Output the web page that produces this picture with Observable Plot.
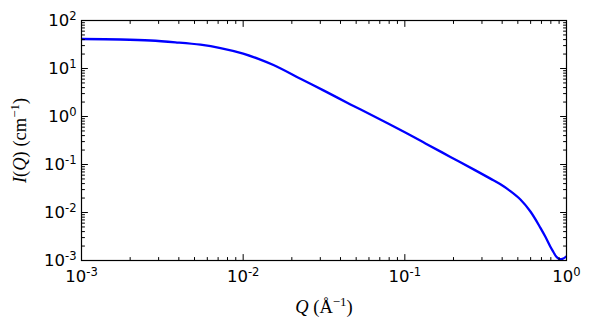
<!DOCTYPE html>
<html>
<head>
<meta charset="utf-8">
<script src="https://cdn.jsdelivr.net/npm/d3@7"></script>
<script src="https://cdn.jsdelivr.net/npm/@observablehq/plot@0.6"></script>
<style>
  html, body { margin: 0; padding: 0; background: #ffffff; }
  #chart svg { display: block; }
</style>
</head>
<body>
<div id="chart"></div>
<script>
// Scattering curve I(Q)
const qValues = [0.001, 0.001743, 0.002671, 0.003815, 0.005443, 0.007238, 0.0100, 0.01243, 0.0154, 0.02262, 0.03138,
                 0.0461, 0.06393, 0.100, 0.1341, 0.1914, 0.2733, 0.3384, 0.3903, 0.4497, 0.5187, 0.5981, 0.6898,
                 0.7404, 0.7949, 0.8298, 0.866, 0.9039, 0.9432, 1.0];
const intensity = [41.2, 40.2, 38.3, 35.1, 31.3, 26.7, 20.5, 15.9, 11.8, 6.13, 3.50,
                   1.787, 1.024, 0.469, 0.2752, 0.144, 0.0754, 0.0508, 0.0387, 0.0279, 0.01866, 0.0105, 0.0048,
                   0.00312, 0.00193, 0.001503, 0.001194, 0.001069, 0.001079, 0.001224];

const xMajorTicks = [1e-3, 1e-2, 1e-1, 1];
const yMajorTicks = [1e-3, 1e-2, 1e-1, 1, 10, 100];
const xDomain = [1e-3, 1];
const yDomain = [1e-3, 100];
const xLabel = "*Q* (Å^{\u22121})";
const yLabel = "*I*(*Q*) (cm^{\u22121})";

const data = qValues.map((q, k) => ({q, i: intensity[k]}));

function minorTicks(lo, hi) {
  const out = [];
  for (let e = lo; e < hi; e++) for (let m = 2; m <= 9; m++) out.push(+(m * Math.pow(10, e)).toPrecision(6));
  return out;
}
const xMinorTicks = minorTicks(-3, 0);
const yMinorTicks = minorTicks(-3, 2);

const tickShape = {draw(ctx, l) { ctx.moveTo(0, 0); ctx.lineTo(0, -l); }};
const majorLen = 6, minorLen = 3;

function xTicks(values, len) {
  return [
    Plot.vector(values, {x: d => d, frameAnchor: "bottom", length: len, rotate: 0, anchor: "start", shape: tickShape, stroke: "black", strokeWidth: 1}),
    Plot.vector(values, {x: d => d, frameAnchor: "top", length: len, rotate: 180, anchor: "start", shape: tickShape, stroke: "black", strokeWidth: 1})
  ];
}
function yTicks(values, len) {
  return [
    Plot.vector(values, {y: d => d, frameAnchor: "left", length: len, rotate: 90, anchor: "start", shape: tickShape, stroke: "black", strokeWidth: 1}),
    Plot.vector(values, {y: d => d, frameAnchor: "right", length: len, rotate: -90, anchor: "start", shape: tickShape, stroke: "black", strokeWidth: 1})
  ];
}

const fmt = d => "10^{" + String(Math.round(Math.log10(d))) + "}";

const chart = Plot.plot({
  width: 591,
  height: 330,
  marginLeft: 81,
  marginRight: 25,
  marginTop: 20,
  marginBottom: 70,
  style: {fontFamily: "DejaVu Sans", color: "black", background: "white"},
  x: {type: "log", domain: xDomain},
  y: {type: "log", domain: yDomain},
  marks: [
    Plot.line(data, {x: "q", y: "i", stroke: "#0000ff", strokeWidth: 2.3, curve: "catmull-rom", clip: true}),
    Plot.frame({stroke: "black", strokeWidth: 1.2}),
    ...xTicks(xMinorTicks, minorLen),
    ...xTicks(xMajorTicks, majorLen),
    ...yTicks(yMinorTicks, minorLen),
    ...yTicks(yMajorTicks, majorLen),
    Plot.axisX({ticks: xMajorTicks, tickSize: 0, tickPadding: 10, tickFormat: fmt, fontSize: 16.5, label: null}),
    Plot.axisY({ticks: yMajorTicks, tickSize: 0, tickPadding: 5, tickFormat: fmt, fontSize: 16.5, label: null}),
    Plot.text([yLabel], {text: d => d, frameAnchor: "left", textAnchor: "middle", lineAnchor: "middle", dx: -61, rotate: -90, fontSize: 18.5, fontFamily: "Liberation Serif", fill: "black"}),
    Plot.text([xLabel], {text: d => d, frameAnchor: "bottom", textAnchor: "middle", lineAnchor: "middle", dy: 47, fontSize: 18.5, fontFamily: "Liberation Serif", fill: "black"})
  ]
});

document.getElementById("chart").appendChild(chart);

// Turn simple markup (*italic*, ^{superscript}) into tspans
const NS = "http://www.w3.org/2000/svg";
function richify(textEl, rise, scale) {
  const src = textEl.textContent;
  if (!/[\^*]/.test(src)) return;
  const fs = parseFloat(getComputedStyle(textEl).fontSize);
  textEl.textContent = "";
  const re = /\*([^*]+)\*|\^\{([^}]+)\}|([^*^]+)/g;
  let m, pending = 0;
  while ((m = re.exec(src))) {
    const t = document.createElementNS(NS, "tspan");
    if (m[2]) {
      t.setAttribute("font-size", (fs * scale).toFixed(2));
      t.setAttribute("dy", (-rise * fs).toFixed(2));
      t.textContent = m[2];
      textEl.appendChild(t);
      pending = rise * fs;
      continue;
    }
    if (m[1]) { t.setAttribute("font-style", "italic"); t.textContent = m[1]; }
    else t.textContent = m[3];
    if (pending) { t.setAttribute("dy", pending.toFixed(2)); pending = 0; }
    textEl.appendChild(t);
  }
}
chart.querySelectorAll('g[aria-label="x-axis tick label"] text, g[aria-label="y-axis tick label"] text')
  .forEach(t => richify(t, 0.38, 0.7));
chart.querySelectorAll('g[aria-label="text"] text').forEach(t => richify(t, 0.42, 0.7));
</script>
</body>
</html>
